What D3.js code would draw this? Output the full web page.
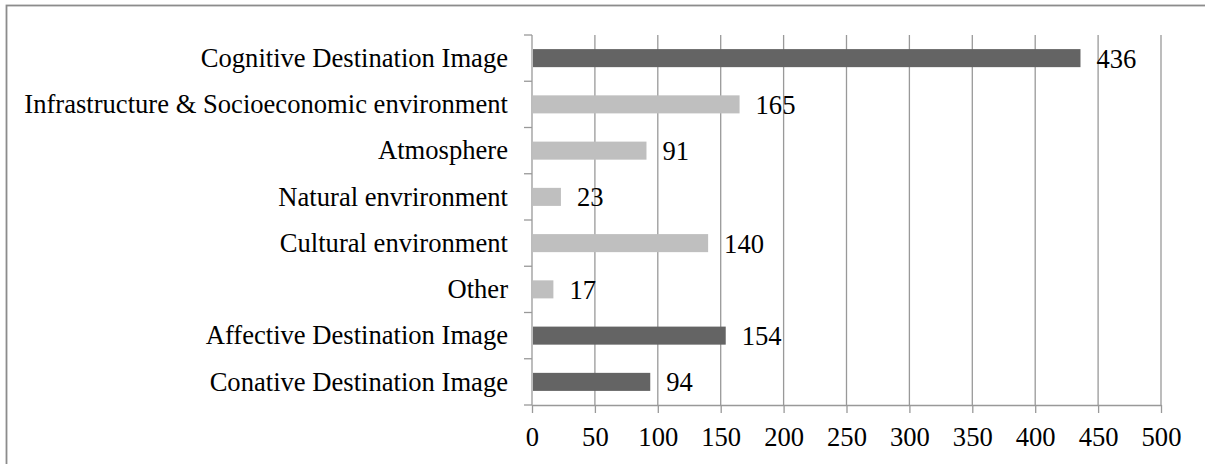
<!DOCTYPE html>
<html>
<head>
<meta charset="utf-8">
<script src="https://cdn.jsdelivr.net/npm/d3@7"></script>
<style>
  body { margin: 0; background: #fff; }
  svg { display: block; }
</style>
</head>
<body>
<div id="container"></div>
<script>
// chart data
var categories = [
    "Cognitive Destination Image",
    "Infrastructure & Socioeconomic environment",
    "Atmosphere",
    "Natural envrironment",
    "Cultural environment",
    "Other",
    "Affective Destination Image",
    "Conative Destination Image"
];
var values = [436, 165, 91, 23, 140, 17, 154, 94];
// main dimension or sub-attribute of cognitive image
var groups = ["main", "sub", "sub", "sub", "sub", "sub", "main", "main"];
var xTicks = [0, 50, 100, 150, 200, 250, 300, 350, 400, 450, 500];

var data = categories.map(function (c, i) {
    return { cat: c, value: values[i], group: groups[i] };
});

var svgWidth = 1205, svgHeight = 464;
var font = "Liberation Serif";
var fontSize = "26.6px";
var gridColor = "#999999";

var svg = d3.select("div#container")
    .append("svg")
    .attr("width", svgWidth)
    .attr("height", svgHeight);

// outer frame (right/bottom edges fall outside the picture)
svg.append("rect")
    .attr("x", 6.5)
    .attr("y", 5.5)
    .attr("width", 1250)
    .attr("height", 520)
    .attr("fill", "none")
    .attr("stroke", "#8c8c8c")
    .attr("stroke-width", 1.8);

// --- SCALES ---
var x = d3.scaleLinear()
    .domain([0, 500])
    .range([532, 1161]);

var yOuter = d3.scaleBand()
    .domain(categories)
    .range([35, 405])
    .padding(0);

var y = d3.scaleBand()
    .domain(categories)
    .range([35, 405])
    .paddingInner(0.61)
    .paddingOuter(0.305);

// --- GRIDLINES ---
svg.append("g")
    .selectAll("line")
    .data(xTicks.filter(t => t > 0))
    .enter()
    .append("line")
    .attr("x1", d => x(d))
    .attr("x2", d => x(d))
    .attr("y1", yOuter.range()[0])
    .attr("y2", yOuter.range()[1])
    .attr("stroke", gridColor)
    .attr("stroke-width", 1.3);

// --- X AXIS ---
var xAxis = svg.append("g")
    .attr("transform", "translate(0," + yOuter.range()[1] + ")")
    .call(d3.axisBottom(x).tickValues(xTicks).tickSize(8).tickSizeOuter(0));
xAxis.select(".domain").attr("stroke", gridColor).attr("stroke-width", 1.3);
xAxis.selectAll(".tick line").attr("stroke", gridColor).attr("stroke-width", 1.3);
xAxis.selectAll(".tick text")
    .attr("y", 22)
    .attr("fill", "#000")
    .attr("font-family", font)
    .attr("font-size", fontSize);

// --- Y AXIS (ticks between categories) ---
var yBounds = categories.map(c => yOuter(c)).concat([yOuter.range()[1]]);
svg.append("line")
    .attr("x1", x(0))
    .attr("x2", x(0))
    .attr("y1", yOuter.range()[0])
    .attr("y2", yOuter.range()[1])
    .attr("stroke", gridColor)
    .attr("stroke-width", 1.3);
svg.append("g")
    .selectAll("line")
    .data(yBounds)
    .enter()
    .append("line")
    .attr("x1", x(0) - 8)
    .attr("x2", x(0))
    .attr("y1", d => d)
    .attr("y2", d => d)
    .attr("stroke", gridColor)
    .attr("stroke-width", 1.3);

// category labels
svg.append("g")
    .selectAll("text")
    .data(data)
    .enter()
    .append("text")
    .attr("x", x(0) - 24)
    .attr("y", d => yOuter(d.cat) + yOuter.bandwidth() / 2)
    .attr("dy", "0.33em")
    .attr("text-anchor", "end")
    .attr("font-family", font)
    .attr("font-size", fontSize)
    .text(d => d.cat);

// --- BARS ---
svg.append("g")
    .selectAll("rect")
    .data(data)
    .enter()
    .append("rect")
    .attr("x", x(0) + 1)
    .attr("y", d => y(d.cat))
    .attr("width", d => x(d.value) - x(0) - 1)
    .attr("height", y.bandwidth())
    .attr("fill", d => d.group === "main" ? "#646464" : "#bfbfbf");

// value labels
svg.append("g")
    .selectAll("text")
    .data(data)
    .enter()
    .append("text")
    .attr("x", d => x(d.value) + 16)
    .attr("y", d => y(d.cat) + y.bandwidth() / 2)
    .attr("dy", "0.36em")
    .attr("font-family", font)
    .attr("font-size", fontSize)
    .text(d => d.value);
</script>
</body>
</html>
